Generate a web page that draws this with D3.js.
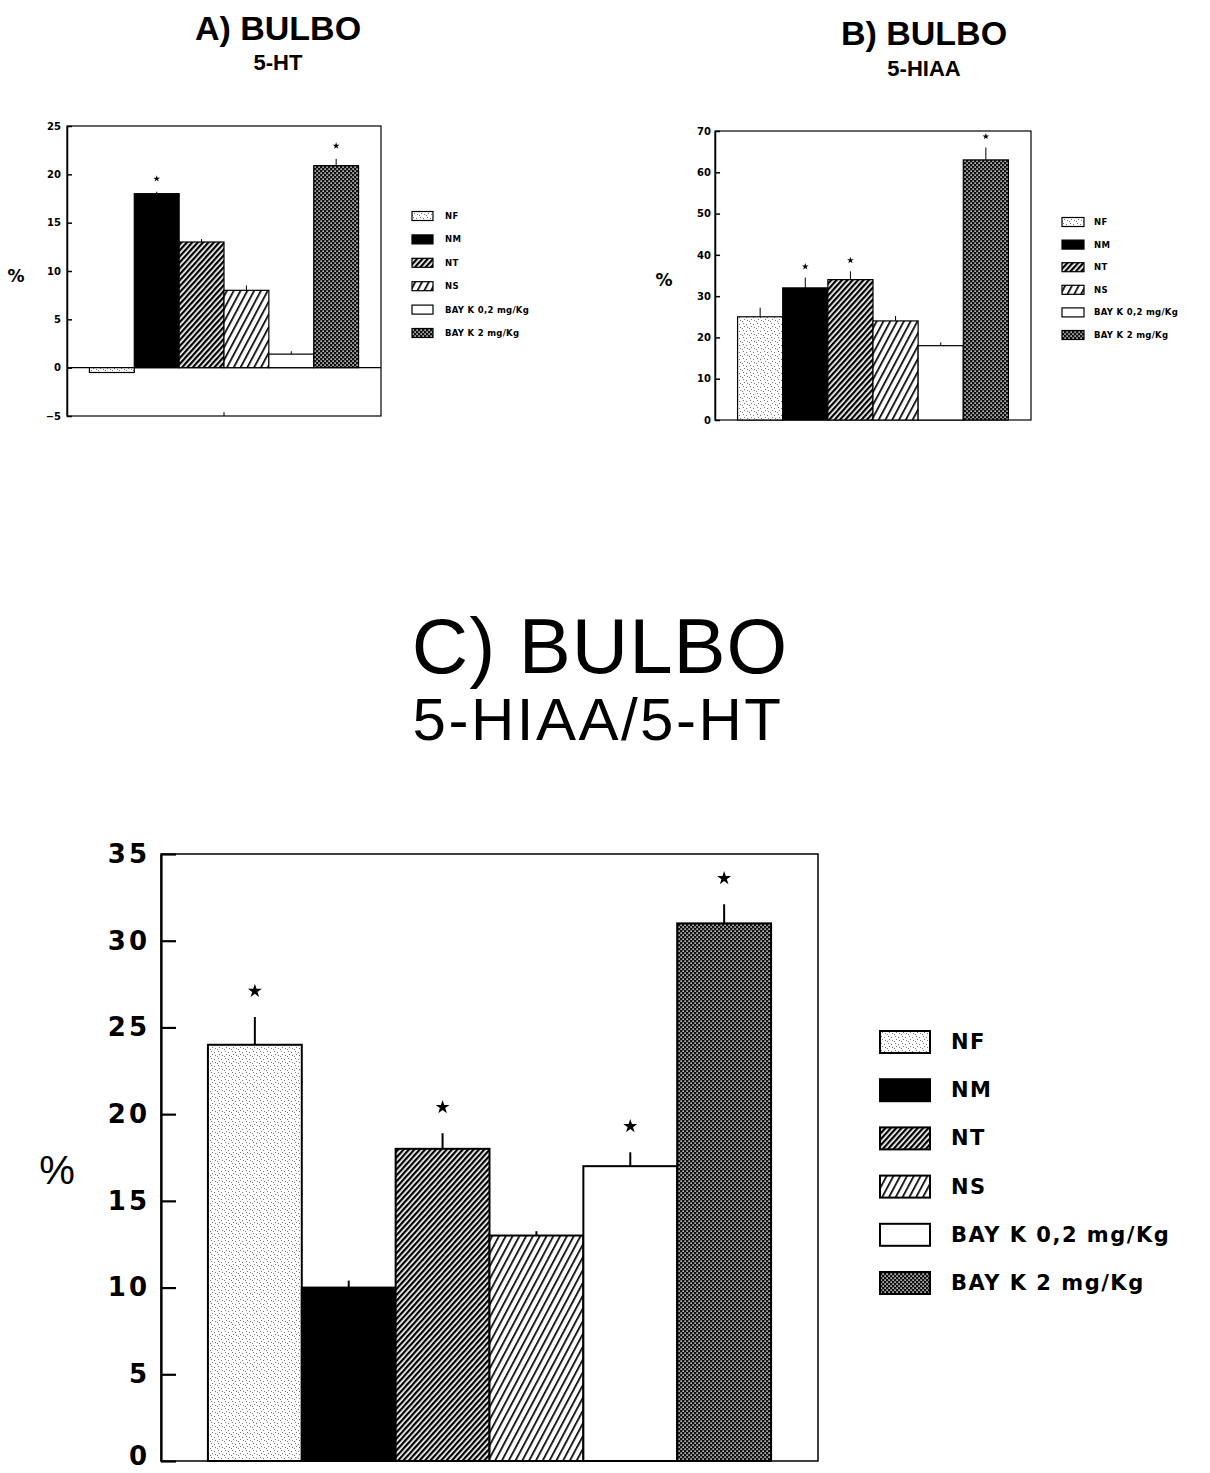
<!DOCTYPE html>
<html>
<head>
<meta charset="utf-8">
<script src="https://cdn.jsdelivr.net/npm/d3@7"></script>
<style>
  body { margin: 0; background: #fff; }
  svg { display: block; }
</style>
</head>
<body>
<svg id="fig" width="1210" height="1473"></svg>
<script>
// groups shared by the three panels
var groups = ['NF', 'NM', 'NT', 'NS', 'BAY K 0,2 mg/Kg', 'BAY K 2 mg/Kg'];

// A) 5-HT
var htValues = [-0.5, 18, 13, 8, 1.4, 20.9];
var htErrors = [0, 0.2, 0.3, 0.5, 0.3, 0.7];
var htStars = [0, 1, 0, 0, 0, 1];
var htTicks = [-5, 0, 5, 10, 15, 20, 25];

// B) 5-HIAA
var hiaaValues = [25, 32, 34, 24, 18, 63];
var hiaaErrors = [2.2, 2.5, 2.0, 1.2, 0.8, 3.0];
var hiaaStars = [0, 1, 1, 0, 0, 1];
var hiaaTicks = [0, 10, 20, 30, 40, 50, 60, 70];

// C) 5-HIAA/5-HT
var ratioValues = [24, 10, 18, 13, 17, 31];
var ratioErrors = [1.6, 0.4, 0.9, 0.25, 0.8, 1.1];
var ratioStars = [1, 0, 1, 0, 1, 1];
var ratioTicks = [0, 5, 10, 15, 20, 25, 30, 35];

var fills = ['url(#pNF)', '#000', 'url(#pNT)', 'url(#pNS)', '#fff', 'url(#pBAY)'];

var svg = d3.select('#fig');
var tickFont = "'DejaVu Sans', sans-serif";
var titleFont = "'Liberation Sans', Arial, sans-serif";

// fill patterns
var defs = svg.append('defs');

var pNF = defs.append('pattern').attr('id', 'pNF').attr('patternUnits', 'userSpaceOnUse')
    .attr('width', 7).attr('height', 7);
pNF.append('rect').attr('width', 7).attr('height', 7).attr('fill', '#fff');
[[1, 1], [4, 2], [2, 4], [5, 5], [0, 6]].forEach(function (p) {
    pNF.append('rect').attr('x', p[0]).attr('y', p[1]).attr('width', 1).attr('height', 1).attr('fill', '#777');
});

var pNT = defs.append('pattern').attr('id', 'pNT').attr('patternUnits', 'userSpaceOnUse')
    .attr('width', 4).attr('height', 4).attr('patternTransform', 'rotate(-48)');
pNT.append('rect').attr('width', 4).attr('height', 4).attr('fill', '#fff');
pNT.append('rect').attr('width', 4).attr('height', 2.3).attr('fill', '#000');

var pNS = defs.append('pattern').attr('id', 'pNS').attr('patternUnits', 'userSpaceOnUse')
    .attr('width', 6).attr('height', 6).attr('patternTransform', 'rotate(-62)');
pNS.append('rect').attr('width', 6).attr('height', 6).attr('fill', '#fff');
pNS.append('rect').attr('width', 6).attr('height', 1.7).attr('fill', '#000');

var pBAY = defs.append('pattern').attr('id', 'pBAY').attr('patternUnits', 'userSpaceOnUse')
    .attr('width', 4).attr('height', 4);
pBAY.append('rect').attr('width', 4).attr('height', 4).attr('fill', '#111');
pBAY.append('rect').attr('x', 0.4).attr('y', 0.4).attr('width', 1.4).attr('height', 1.4).attr('fill', '#fff');
pBAY.append('rect').attr('x', 2.4).attr('y', 2.4).attr('width', 1.4).attr('height', 1.4).attr('fill', '#fff');

function drawChart(o) {
    var g = svg.append('g');
    var x = d3.scaleBand().domain(groups).range([o.left, o.right]).paddingInner(0).paddingOuter(0.5);
    var y = d3.scaleLinear().domain(o.domain).range([o.bottom, o.top]);

    var rows = groups.map(function (k, i) {
        return { k: k, v: o.values[i], e: o.errors[i], s: o.stars[i], f: fills[i] };
    });

    g.append('rect')
        .attr('x', o.left).attr('y', o.top)
        .attr('width', o.right - o.left).attr('height', o.bottom - o.top)
        .attr('fill', 'none').attr('stroke', '#000').attr('stroke-width', o.frameW);

    if (o.domain[0] < 0) {
        g.append('line')
            .attr('x1', o.left).attr('x2', o.right)
            .attr('y1', y(0)).attr('y2', y(0))
            .attr('stroke', '#000').attr('stroke-width', o.frameW);
        // small middle tick on the bottom edge
        g.append('line')
            .attr('x1', (o.left + o.right) / 2).attr('x2', (o.left + o.right) / 2)
            .attr('y1', o.bottom).attr('y2', o.bottom - 4)
            .attr('stroke', '#000').attr('stroke-width', 1);
    }

    g.selectAll('.bar').data(rows).enter().append('rect')
        .attr('class', 'bar')
        .attr('x', function (d) { return x(d.k); })
        .attr('width', x.bandwidth())
        .attr('y', function (d) { return y(Math.max(0, d.v)); })
        .attr('height', function (d) { return Math.abs(y(d.v) - y(0)); })
        .attr('fill', function (d) { return d.f; })
        .attr('stroke', '#000').attr('stroke-width', o.barW);

    g.selectAll('.err').data(rows.filter(function (d) { return d.e > 0; })).enter().append('line')
        .attr('class', 'err')
        .attr('x1', function (d) { return x(d.k) + x.bandwidth() / 2; })
        .attr('x2', function (d) { return x(d.k) + x.bandwidth() / 2; })
        .attr('y1', function (d) { return y(d.v); })
        .attr('y2', function (d) { return y(d.v + d.e); })
        .attr('stroke', '#000').attr('stroke-width', o.errW);

    g.selectAll('.star').data(rows.filter(function (d) { return d.s; })).enter().append('path')
        .attr('class', 'star')
        .attr('d', d3.symbol(d3.symbolStar, o.starSize))
        .attr('transform', function (d) {
            return 'translate(' + (x(d.k) + x.bandwidth() / 2) + ',' + (y(d.v + d.e) - o.starGap) + ')';
        })
        .attr('fill', '#000');

    var ax = g.append('g')
        .attr('transform', 'translate(' + o.left + ',0)')
        .call(d3.axisLeft(y).tickValues(o.ticks).tickSizeInner(-o.tickLen).tickSizeOuter(0).tickPadding(o.pad));
    ax.select('.domain').attr('stroke-width', o.axisW);
    ax.selectAll('.tick line').attr('stroke-width', o.axisW);
    ax.selectAll('.tick text')
        .style('font-family', tickFont).style('font-size', o.tickSize + 'px')
        .style('font-weight', 'bold').style('letter-spacing', o.spacing + 'px')
        .attr('fill', '#000');
    // keep the lowest label of the big panel inside the page
    if (o.lowDy) {
        ax.selectAll('.tick text').filter(function (d) { return d === o.domain[0]; }).attr('dy', o.lowDy);
    }

    g.append('text')
        .attr('x', o.pctX).attr('y', o.pctY)
        .attr('text-anchor', 'middle').attr('dominant-baseline', 'central')
        .style('font-family', o.pctFont).style('font-size', o.pctSize + 'px')
        .style('font-weight', o.pctWeight)
        .text('%');

    // legend
    var lg = g.selectAll('.leg').data(rows).enter().append('g')
        .attr('class', 'leg')
        .attr('transform', function (d, i) { return 'translate(' + o.legX + ',' + (o.legY + i * o.legStep) + ')'; });
    lg.append('rect')
        .attr('x', 0).attr('y', -o.swH / 2)
        .attr('width', o.swW).attr('height', o.swH)
        .attr('fill', function (d) { return d.f; })
        .attr('stroke', '#000').attr('stroke-width', o.barW);
    lg.append('text')
        .attr('x', o.legText).attr('y', 0)
        .attr('dominant-baseline', 'central')
        .style('font-family', tickFont).style('font-size', o.legSize + 'px')
        .style('font-weight', 'bold').style('letter-spacing', o.legSpacing + 'px')
        .text(function (d) { return d.k; });
}

function title(x, y, size, weight, txt, spacing) {
    svg.append('text')
        .attr('x', x).attr('y', y)
        .attr('text-anchor', 'middle')
        .style('font-family', titleFont).style('font-size', size + 'px')
        .style('font-weight', weight)
        .style('letter-spacing', (spacing || 0) + 'px')
        .text(txt);
}

title(278, 40, 34, 'bold', 'A) BULBO');
title(278, 70, 22, 'bold', '5-HT');
title(924, 45, 34, 'bold', 'B) BULBO');
title(924, 76, 22, 'bold', '5-HIAA');
title(600, 673, 78, 'normal', 'C) BULBO', 1);
title(598, 740, 60, 'normal', '5-HIAA/5-HT', 2.5);

drawChart({
    values: htValues, errors: htErrors, stars: htStars, ticks: htTicks, domain: [-5, 25],
    left: 67, right: 381, top: 126, bottom: 416,
    frameW: 1.2, barW: 1.2, errW: 1, axisW: 1.5, tickLen: 5, pad: 6, tickSize: 10, spacing: 0,
    starSize: 14, starGap: 13,
    pctX: 16, pctY: 276, pctSize: 17, pctWeight: 'bold', pctFont: tickFont,
    legX: 412, legY: 216, legStep: 23.4, swW: 21, swH: 9, legText: 33, legSize: 8.5, legSpacing: 0.3
});

drawChart({
    values: hiaaValues, errors: hiaaErrors, stars: hiaaStars, ticks: hiaaTicks, domain: [0, 70],
    left: 715, right: 1031, top: 131, bottom: 420,
    frameW: 1.2, barW: 1.2, errW: 1, axisW: 1.5, tickLen: 5, pad: 4, tickSize: 10, spacing: 0,
    starSize: 14, starGap: 11,
    pctX: 664, pctY: 280, pctSize: 17, pctWeight: 'bold', pctFont: tickFont,
    legX: 1062, legY: 222, legStep: 22.6, swW: 22, swH: 9, legText: 32, legSize: 8.5, legSpacing: 0.3
});

drawChart({
    values: ratioValues, errors: ratioErrors, stars: ratioStars, ticks: ratioTicks, domain: [0, 35],
    left: 161, right: 818, top: 854, bottom: 1461,
    frameW: 1.5, barW: 2, errW: 2, axisW: 2.2, tickLen: 15, pad: 11, tickSize: 26, spacing: 3,
    starSize: 60, starGap: 26, lowDy: '0.12em',
    pctX: 57, pctY: 1170, pctSize: 40, pctWeight: 'normal', pctFont: titleFont,
    legX: 880, legY: 1042, legStep: 48.2, swW: 50, swH: 22, legText: 71, legSize: 21, legSpacing: 1.5
});
</script>
</body>
</html>
